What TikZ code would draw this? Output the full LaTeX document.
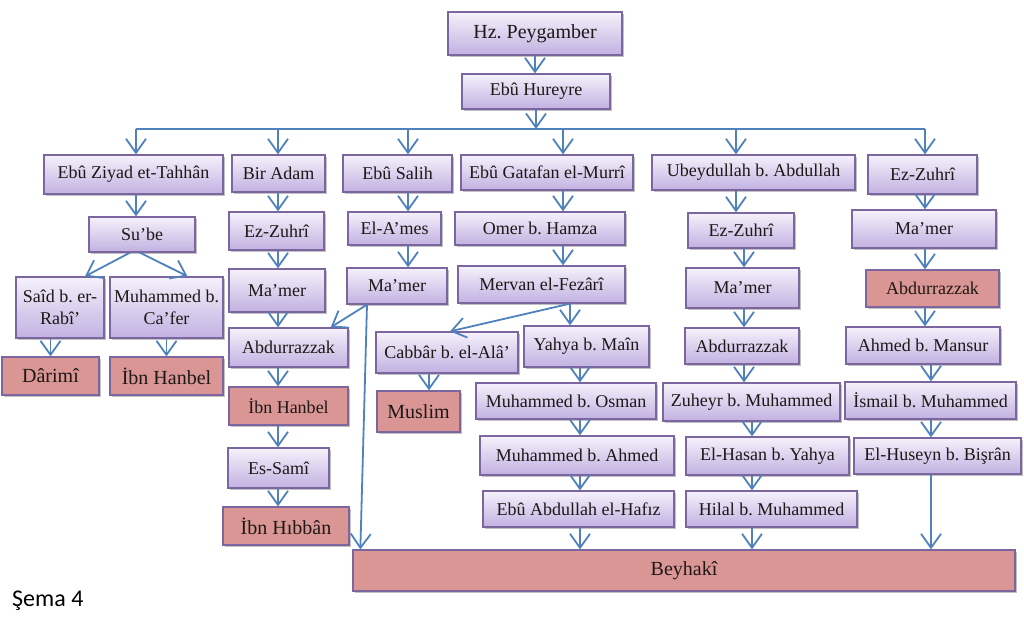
\documentclass[tikz,border=0pt]{standalone}
\usepackage{fontspec}
\setmainfont{Liberation Serif}
\newfontfamily\capfont{Carlito}
\usepackage{tikz}
\usetikzlibrary{arrows.meta, shadows}
\definecolor{boxtop}{RGB}{245,241,251}
\definecolor{boxbot}{RGB}{194,177,225}
\definecolor{boxedge}{RGB}{124,102,160}
\definecolor{redfill}{RGB}{217,150,148}
\definecolor{linkblue}{RGB}{79,129,189}
\definecolor{inkdark}{RGB}{30,24,22}
\newcommand\namesize{\fontsize{18}{22}\selectfont}
\newcommand\srcsize{\fontsize{20}{24}\selectfont}
\frenchspacing

\begin{document}
\begin{tikzpicture}[
    x=1pt, y=-1pt,
    base/.style={rectangle, draw=boxedge, line width=1.3pt, inner sep=0pt, align=center, text=inkdark, drop shadow={shadow xshift=1.5pt, shadow yshift=-2pt, opacity=0.35, fill=black!70}},
    box/.style={base, top color=boxtop, bottom color=boxbot, font=\namesize},
    src/.style={base, fill=redfill, font=\srcsize},
    wh/.style 2 args={minimum width=#1, minimum height=#2},
    link/.style={draw=linkblue, line width=1.8pt},
    arr/.style={link, -{Straight Barb[length=14pt, width=20pt]}}
]
    \useasboundingbox (0,0) rectangle (1024,616);

    % Top of the chain
    \node[box, wh={174}{43}, font=\srcsize] (peyg) at (535, 33.5) {Hz. Peygamber};
    \node[box, wh={148}{35}] (hurevre) at (536, 91.5) {Ebû Hureyre};

    % First narrators
    \node[box, wh={179}{39}] (ziyad) at (133.5, 174.5) {Ebû Ziyad et-Tahhân};
    \node[box, wh={93}{37}] (biradam) at (278.5, 173.5) {Bir Adam};
    \node[box, wh={109}{37}] (salih) at (397.5, 173.5) {Ebû Salih};
    \node[box, wh={172}{35}] (gatafan) at (547, 172.5) {Ebû Gatafan el-Murrî};
    \node[box, wh={203}{35}] (ubeyd) at (753.5, 172.5) {Ubeydullah b. Abdullah};
    \node[box, wh={109}{39}] (zuhriF) at (922.5, 174.5) {Ez-Zuhrî};

    % Second row
    \node[box, wh={106}{35}] (sube) at (142, 234.5) {Su’be};
    \node[box, wh={95}{38}] (zuhriB) at (276.5, 231) {Ez-Zuhrî};
    \node[box, wh={93}{33}] (ames) at (394.5, 228.5) {El-A’mes};
    \node[box, wh={170}{33}] (omer) at (540, 228.5) {Omer b. Hamza};
    \node[box, wh={106}{35}] (zuhriE) at (741, 230.5) {Ez-Zuhrî};
    \node[box, wh={144}{38}] (mamerF) at (924, 229) {Ma’mer};

    % Third row
    \node[box, wh={88}{61}] (said) at (60, 307.5) {Saîd b. er-\\Rabî’};
    \node[box, wh={113}{61}] (cafer) at (166.5, 307.5) {Muhammed b.\\Ca’fer};
    \node[box, wh={96}{43}] (mamerB) at (277, 290.5) {Ma’mer};
    \node[box, wh={100}{36}] (mamerC) at (397, 286) {Ma’mer};
    \node[box, wh={167}{37}] (mervan) at (541.5, 284.5) {Mervan el-Fezârî};
    \node[box, wh={113}{40}] (mamerE) at (742.5, 288) {Ma’mer};
    \node[src, wh={133}{37}, font=\namesize] (abdF) at (932.5, 288.5) {Abdurrazzak};

    % Fourth row
    \node[src, wh={97}{38}] (darimi) at (50.5, 376) {Dârimî};
    \node[src, wh={113}{38}] (hanbelA) at (166.5, 376) {İbn Hanbel};
    \node[box, wh={119}{39}] (abdB) at (288.5, 347.5) {Abdurrazzak};
    \node[box, wh={142}{41}] (cabbar) at (447, 352.5) {Cabbâr b. el-Alâ’};
    \node[box, wh={125}{41}] (yahya) at (586.5, 346.5) {Yahya b. Maîn};
    \node[box, wh={114}{36}] (abdE) at (742, 346) {Abdurrazzak};
    \node[box, wh={154}{37}] (mansur) at (923, 345.5) {Ahmed b. Mansur};

    % Fifth row
    \node[src, wh={119}{38}, font=\namesize] (hanbelB) at (288.5, 406) {İbn Hanbel};
    \node[src, wh={83}{41}] (muslim) at (418.5, 411.5) {Muslim};
    \node[box, wh={180}{36}] (osman) at (566, 401) {Muhammed b. Osman};
    \node[box, wh={177}{38}] (zuheyr) at (751.5, 402) {Zuheyr b. Muhammed};
    \node[box, wh={171}{37}] (ismail) at (930.5, 400.5) {İsmail b. Muhammed};

    % Sixth row
    \node[box, wh={101}{40}] (sami) at (278.5, 468) {Es-Samî};
    \node[box, wh={194}{39}] (ahmed) at (577, 455.5) {Muhammed b. Ahmed};
    \node[box, wh={163}{38}] (hasan) at (767.5, 456) {El-Hasan b. Yahya};
    \node[box, wh={167}{36}] (huseyn) at (937.5, 456) {El-Huseyn b. Bişrân};

    % Seventh row
    \node[src, wh={126}{38}] (hibban) at (286, 526) {İbn Hıbbân};
    \node[box, wh={191}{36}] (hafiz) at (578.5, 509) {Ebû Abdullah el-Hafız};
    \node[box, wh={171}{36}] (hilal) at (771.5, 509) {Hilal b. Muhammed};

    % Collector
    \node[src, wh={662}{41}] (beyhaki) at (684, 570.5) {Beyhakî};

    \node[anchor=west, inner sep=0pt, font=\capfont\fontsize{24}{28}\selectfont] (sema) at (12, 601) {Şema 4};

    % Column axes and the bus
    \coordinate (colA) at (136, 129);
    \coordinate (colB) at (278, 129);
    \coordinate (colC) at (408, 129);
    \coordinate (colD) at (563, 129);
    \coordinate (colD2) at (570, 129);
    \coordinate (colG) at (580, 129);
    \coordinate (colE) at (736, 129);
    \coordinate (colE2) at (744, 129);
    \coordinate (colE3) at (752, 129);
    \coordinate (colF) at (925, 129);
    \coordinate (colF2) at (931, 129);

    \draw[arr] (peyg.south) -- (peyg.south |- hurevre.north);
    \draw[arr] (hurevre.south) -- (hurevre.south |- colA);
    \draw[link] (colA) -- (colF);
    \foreach \c/\n in {colA/ziyad, colB/biradam, colC/salih, colD/gatafan, colE/ubeyd, colF/zuhriF}
        \draw[arr] (\c) -- (\c |- \n.north);

    % Ebu Ziyad line
    \draw[arr] (colA |- ziyad.south) -- (colA |- sube.north);
    \draw[arr] ([xshift=-12pt]sube.south) -- ([xshift=25pt]said.north);
    \draw[arr] ([xshift=-2pt]sube.south) -- ([xshift=21pt]cafer.north);
    \draw[arr] (said.south -| darimi.north) -- (darimi.north);
    \draw[arr] (cafer.south) -- (hanbelA.north);

    % Bir Adam line
    \draw[arr] (colB |- biradam.south) -- (colB |- zuhriB.north);
    \draw[arr] (colB |- zuhriB.south) -- (colB |- mamerB.north);
    \draw[arr] (colB |- mamerB.south) -- (colB |- abdB.north);
    \draw[arr] (colB |- abdB.south) -- (colB |- hanbelB.north);
    \draw[arr] (colB |- hanbelB.south) -- (colB |- sami.north);
    \draw[arr] (colB |- sami.south) -- (colB |- hibban.north);

    % Ebu Salih line
    \draw[arr] (colC |- salih.south) -- (colC |- ames.north);
    \draw[arr] (colC |- ames.south) -- (colC |- mamerC.north);
    \draw[arr] ([xshift=-30pt]mamerC.south) -- ([xshift=-18pt]abdB.north east);
    \draw[arr] ([xshift=-30pt]mamerC.south) -- ([xshift=8pt]beyhaki.north west);

    % Ebu Gatafan line
    \draw[arr] (colD |- gatafan.south) -- (colD |- omer.north);
    \draw[arr] (colD |- omer.south) -- (colD |- mervan.north);
    \draw[arr] (colD2 |- mervan.south) -- (colD2 |- yahya.north);
    \draw[arr] (colD2 |- mervan.south) -- ([xshift=3pt]cabbar.north);
    \draw[arr] ([xshift=-18pt]cabbar.south) -- ([xshift=-18pt]cabbar.south |- muslim.north);
    \draw[arr] (colG |- yahya.south) -- (colG |- osman.north);
    \draw[arr] (colG |- osman.south) -- (colG |- ahmed.north);
    \draw[arr] (colG |- ahmed.south) -- (colG |- hafiz.north);
    \draw[arr] (colG |- hafiz.south) -- (colG |- beyhaki.north);

    % Ubeydullah line
    \draw[arr] (colE |- ubeyd.south) -- (colE |- zuhriE.north);
    \draw[arr] (colE2 |- zuhriE.south) -- (colE2 |- mamerE.north);
    \draw[arr] (colE2 |- mamerE.south) -- (colE2 |- abdE.north);
    \draw[arr] (colE2 |- abdE.south) -- (colE2 |- zuheyr.north);
    \draw[arr] (colE3 |- zuheyr.south) -- (colE3 |- hasan.north);
    \draw[arr] (colE3 |- hasan.south) -- (colE3 |- hilal.north);
    \draw[arr] (colE3 |- hilal.south) -- (colE3 |- beyhaki.north);

    % Ez-Zuhri line
    \draw[arr] (colF |- zuhriF.south) -- (colF |- mamerF.north);
    \draw[arr] (colF |- mamerF.south) -- (colF |- abdF.north);
    \draw[arr] (colF |- abdF.south) -- (colF |- mansur.north);
    \draw[arr] (colF2 |- mansur.south) -- (colF2 |- ismail.north);
    \draw[arr] (colF2 |- ismail.south) -- (colF2 |- huseyn.north);
    \draw[arr] (colF2 |- huseyn.south) -- (colF2 |- beyhaki.north);
\end{tikzpicture}
\end{document}
